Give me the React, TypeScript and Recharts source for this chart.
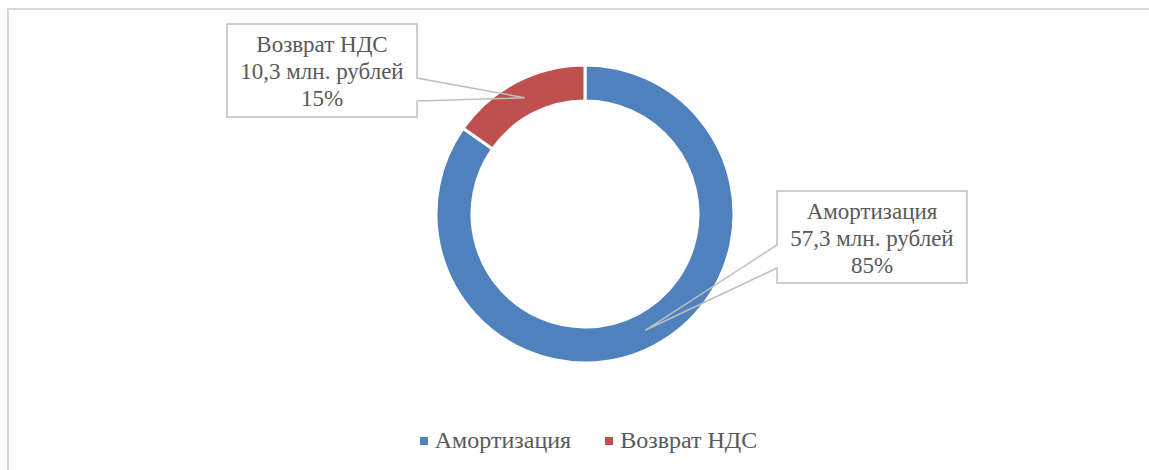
import { PieChart, Pie, Cell, Legend } from "recharts"

const categories = ["Амортизация", "Возврат НДС"]
const amounts = [57.3, 10.3]
const unit = "млн. рублей"
const colors = ["#4F81BD", "#C0504D"]

const data = categories.map((name, i) => ({ name, value: amounts[i] }))

// callout boxes, relative to the pie centre
const boxes = [
  { left: 192, top: -23, width: 190, height: 92 },
  { left: -358, top: -190, width: 190, height: 93 },
]

const FONT = "Liberation Serif, Tinos, Times New Roman, Times, DejaVu Serif, Noto Serif, serif"
const RAD = Math.PI / 180

const Callout = (props: any) => {
  const { cx, cy, midAngle, innerRadius, outerRadius, index, name, value, percent } = props
  const b = boxes[index]
  if (!b) return null
  const r = (innerRadius + outerRadius) / 2
  const tx = cx + r * Math.cos(-midAngle * RAD)
  const ty = cy + r * Math.sin(-midAngle * RAD)
  const x0 = cx + b.left
  const y0 = cy + b.top
  const x1 = x0 + b.width
  const y1 = y0 + b.height
  const w0 = y0 + 54
  const w1 = y0 + 77
  const path =
    x0 + b.width / 2 < cx
      ? `M${x0},${y0} H${x1} V${w0} L${tx},${ty} L${x1},${w1} V${y1} H${x0} Z`
      : `M${x0},${y0} H${x1} V${y1} H${x0} V${w1} L${tx},${ty} L${x0},${w0} Z`
  const mx = x0 + b.width / 2
  const lines = [
    name,
    `${String(value).replace(".", ",")} ${unit}`,
    `${Math.round(percent * 100)}%`,
  ]
  return (
    <g>
      <rect x={x0} y={y0} width={b.width} height={b.height} fill="#fff" />
      <path d={path} fill="none" stroke="#BFBFBF" strokeWidth={1.5} />
      {lines.map((t, i) => (
        <text
          key={i}
          x={mx}
          y={y0 + 28 + i * 27}
          textAnchor="middle"
          fill="#595959"
          fontSize={23}
          style={{ fontFamily: FONT }}
        >
          {t}
        </text>
      ))}
    </g>
  )
}

const LegendBox = ({ payload }: any) => (
  <div style={{ display: "flex", justifyContent: "center", gap: 34, fontFamily: FONT, fontSize: 24, color: "#595959" }}>
    {(payload || []).map((p: any) => (
      <div key={p.value} style={{ display: "flex", alignItems: "center" }}>
        <span style={{ width: 8, height: 8, background: p.color, marginRight: 7, display: "inline-block" }} />
        {p.value}
      </div>
    ))}
  </div>
)

export default function App() {
  return (
    <div style={{ position: "absolute", left: 0, top: 0, width: 1149, height: 470, overflow: "hidden", background: "#fff" }}>
      <div
        style={{
          position: "absolute",
          left: 7,
          top: 8,
          width: 1200,
          height: 500,
          borderTop: "2px solid #D9D9D9",
          borderLeft: "2px solid #D9D9D9",
        }}
      />
      <div style={{ position: "absolute", left: 0, top: 0 }}>
        <PieChart width={1149} height={470} margin={{ top: 0, right: 0, bottom: 0, left: 0 }}>
          <Pie
            data={data}
            dataKey="value"
            nameKey="name"
            cx={585}
            cy={214}
            innerRadius={113}
            outerRadius={149}
            startAngle={90}
            endAngle={-270}
            stroke="#fff"
            strokeWidth={3}
            label={Callout}
            labelLine={false}
            isAnimationActive={false}
          >
            {data.map((d, i) => (
              <Cell key={d.name} fill={colors[i]} />
            ))}
          </Pie>
          <Legend content={<LegendBox />} wrapperStyle={{ position: "absolute", left: 14, top: 427, width: 1149 }} />
        </PieChart>
      </div>
    </div>
  )
}
